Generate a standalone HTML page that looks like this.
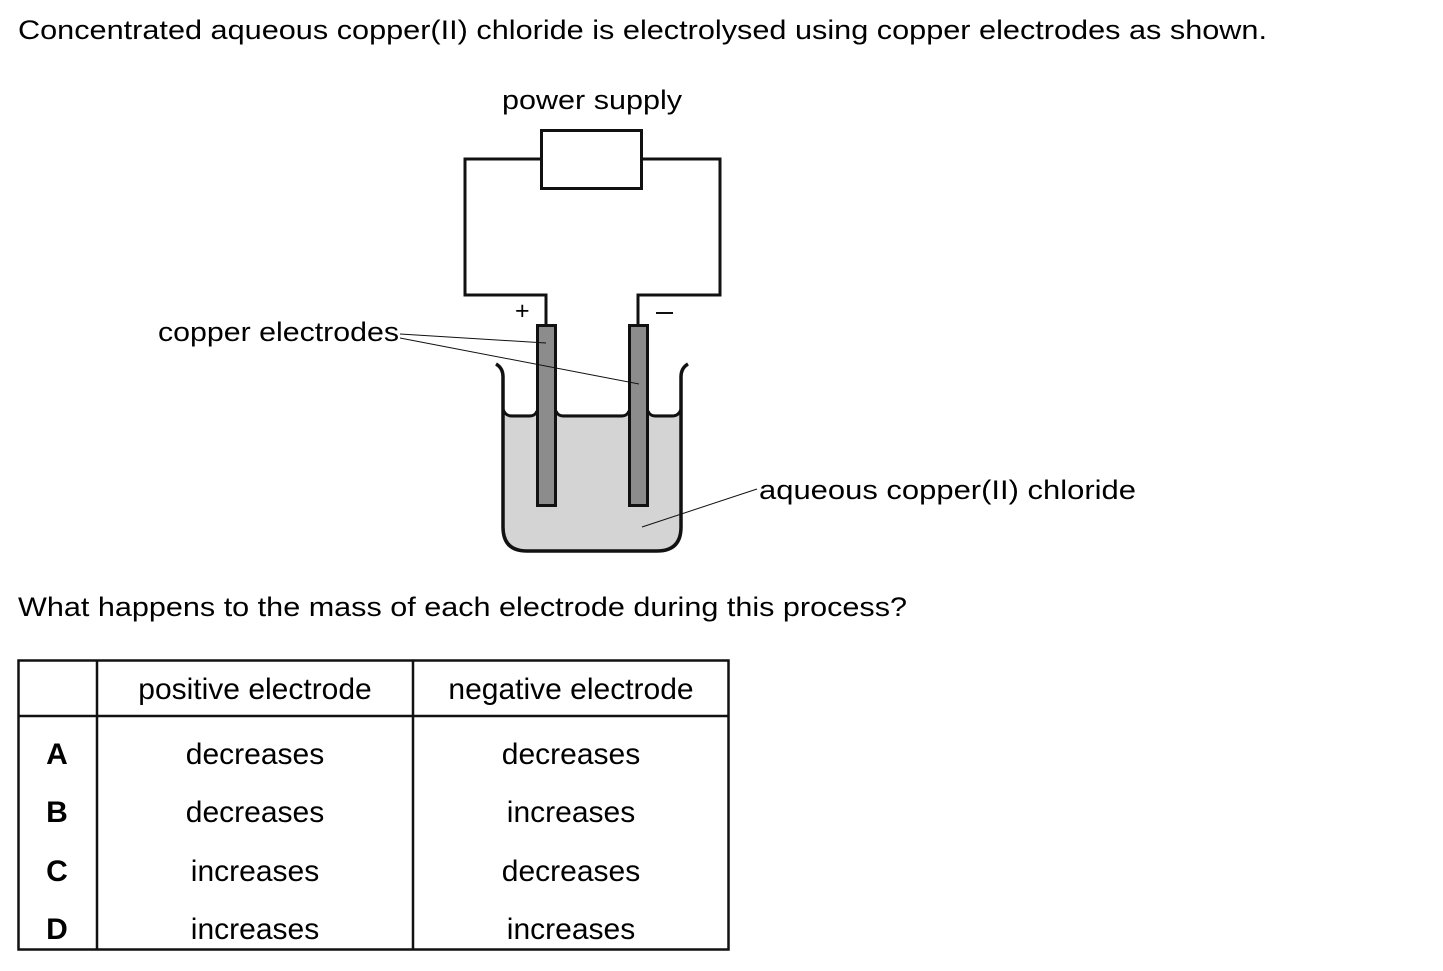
<!DOCTYPE html>
<html><head><style>
html,body{margin:0;padding:0;background:#fff;width:1443px;height:971px;overflow:hidden}
svg text{font-family:"Liberation Sans",Arial,sans-serif;fill:#000}
</style></head><body>
<svg width="1443" height="971" viewBox="0 0 1443 971" xmlns="http://www.w3.org/2000/svg">
<text x="18" y="39" font-size="26.5" textLength="1249" lengthAdjust="spacingAndGlyphs">Concentrated aqueous copper(II) chloride is electrolysed using copper electrodes as shown.</text>
<text x="502" y="109" font-size="26.5" textLength="180" lengthAdjust="spacingAndGlyphs">power supply</text>
<!-- circuit -->
<polyline points="546,324 546,295 465,295 465,159 541,159" fill="none" stroke="#111" stroke-width="3"/>
<polyline points="638,324 638,295 720,295 720,159 642,159" fill="none" stroke="#111" stroke-width="3"/>
<rect x="541.5" y="130.5" width="100" height="58" fill="#fff" stroke="#111" stroke-width="3"/>
<text x="515" y="319" font-size="25">+</text>
<line x1="656" y1="313" x2="673" y2="313" stroke="#111" stroke-width="2"/>
<!-- liquid -->
<path d="M503,414 L681,414 L681,527 Q681,551 657,551 L527,551 Q503,551 503,527 Z" fill="#d4d4d4"/>
<!-- beaker -->
<path d="M496,364 Q503,368 503,377 L503,527 Q503,551 527,551 L657,551 Q681,551 681,527 L681,377 Q681,368 688,364" fill="none" stroke="#111" stroke-width="3.5"/>
<path d="M503,409 Q505,416 512,416 L530,416 Q535,416 537,411 M556,411 Q558,416 563,416 L622,416 Q627,416 629,411 M648,411 Q650,416 655,416 L672,416 Q679,416 681,409" fill="none" stroke="#111" stroke-width="3"/>
<!-- electrodes -->
<rect x="537.5" y="325.5" width="18" height="180" fill="#8c8c8c" stroke="#111" stroke-width="3"/>
<rect x="629.5" y="325.5" width="18" height="180" fill="#8c8c8c" stroke="#111" stroke-width="3"/>
<!-- labels -->
<text x="158" y="341" font-size="26.5" textLength="241" lengthAdjust="spacingAndGlyphs">copper electrodes</text>
<line x1="400" y1="334" x2="546" y2="343" stroke="#111" stroke-width="1"/>
<line x1="400" y1="338" x2="639" y2="384" stroke="#111" stroke-width="1"/>
<text x="759" y="499" font-size="26.5" textLength="377" lengthAdjust="spacingAndGlyphs">aqueous copper(II) chloride</text>
<line x1="757" y1="489" x2="642" y2="527" stroke="#111" stroke-width="1"/>
<text x="18" y="616" font-size="26.5" textLength="889" lengthAdjust="spacingAndGlyphs">What happens to the mass of each electrode during this process?</text>
<!-- table -->
<rect x="18.5" y="660.5" width="710" height="289" fill="none" stroke="#111" stroke-width="2.5"/>
<line x1="97" y1="660" x2="97" y2="950" stroke="#111" stroke-width="2.5"/>
<line x1="413" y1="660" x2="413" y2="950" stroke="#111" stroke-width="2.5"/>
<line x1="18" y1="716" x2="729" y2="716" stroke="#111" stroke-width="2.5"/>
<g font-size="30" text-anchor="middle">
<text x="255" y="699">positive electrode</text>
<text x="571" y="699">negative electrode</text>
<text x="57" y="764" font-weight="bold">A</text>
<text x="57" y="822" font-weight="bold">B</text>
<text x="57" y="881" font-weight="bold">C</text>
<text x="57" y="939" font-weight="bold">D</text>
<text x="255" y="764">decreases</text><text x="571" y="764">decreases</text>
<text x="255" y="822">decreases</text><text x="571" y="822">increases</text>
<text x="255" y="881">increases</text><text x="571" y="881">decreases</text>
<text x="255" y="939">increases</text><text x="571" y="939">increases</text>
</g>
</svg>
</body></html>
